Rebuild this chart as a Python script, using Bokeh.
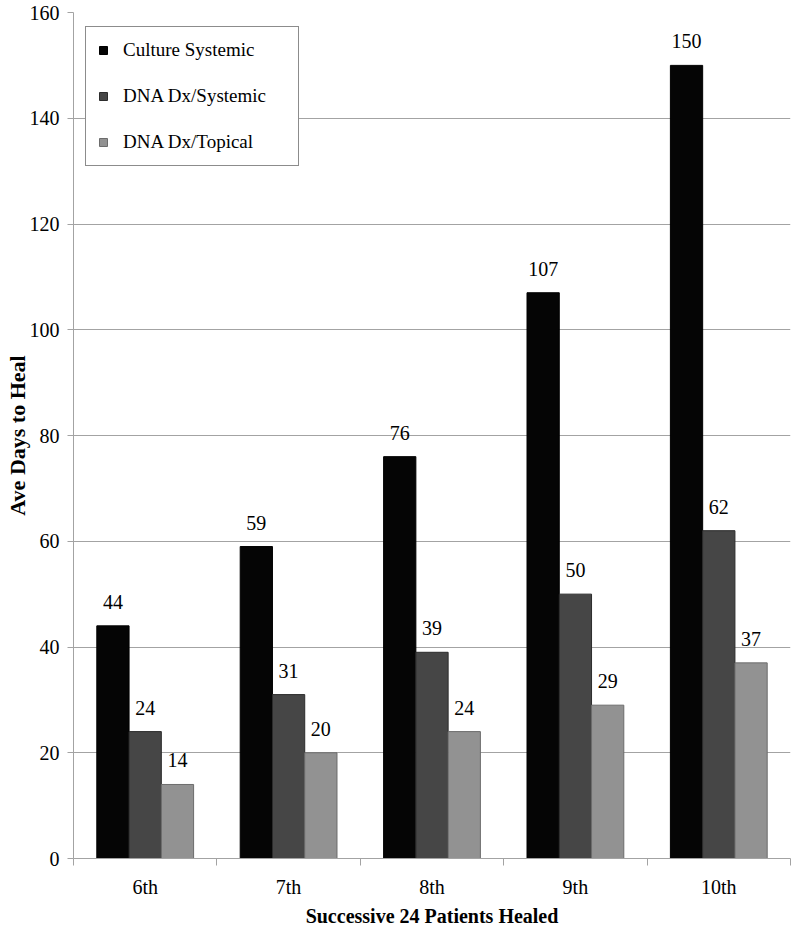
from bokeh.plotting import figure
from bokeh.models import FixedTicker, Legend, LegendItem, ColumnDataSource, Range1d
from bokeh.core.properties import value
from bokeh.embed import file_html
from bokeh.resources import INLINE

categories = ["6th", "7th", "8th", "9th", "10th"]
culture_systemic = [44, 59, 76, 107, 150]
dna_systemic = [24, 31, 39, 50, 62]
dna_topical = [14, 20, 24, 29, 37]
series_names = ["Culture Systemic", "DNA Dx/Systemic", "DNA Dx/Topical"]
y_ticks = [0, 20, 40, 60, 80, 100, 120, 140, 160]

FONT = "Liberation Serif"

FIG_W = 792
FIG_H = 930
TOP = 12
BOTTOM = 72
p = figure(width=FIG_W, height=FIG_H, output_backend="svg", toolbar_location=None,
           x_range=Range1d(0, len(categories)), y_range=Range1d(0, 160),
           min_border_left=73, min_border_right=2, min_border_top=TOP, min_border_bottom=BOTTOM)
p.outline_line_color = None
p.background_fill_color = "white"

series = [culture_systemic, dna_systemic, dna_topical]
fills = ["#050505", "#464646", "#929292"]
lines = ["#000000", "#2c2c2c", "#6c6c6c"]
offsets = [-0.225, 0.0, 0.225]
bw = 0.225

renderers = []
for vals, fc, lc, off in zip(series, fills, lines, offsets):
    xs = [i + 0.5 + off for i in range(len(categories))]
    src = ColumnDataSource(dict(x=xs, top=vals, lab=[str(v) for v in vals]))
    r = p.vbar(x="x", top="top", bottom=0, width=bw, source=src,
               fill_color=fc, line_color=lc, line_width=1)
    renderers.append(r)
    p.text(x="x", y="top", text="lab", source=src, text_align="center",
           text_baseline="middle", y_offset=-24, text_font=value(FONT),
           text_font_size="20px", text_color="black")

frame_h = FIG_H - TOP - BOTTOM
LEG_H = 3 * 22 + 2 * 24 + 2 * 12
legend = Legend(items=[LegendItem(label=n, renderers=[r]) for n, r in zip(series_names, renderers)],
                location=(12, frame_h - 16 - LEG_H))
legend.glyph_width = 10
legend.glyph_height = 10
legend.label_height = 22
legend.spacing = 24
legend.padding = 12
legend.label_width = 163
legend.label_standoff = 15
legend.label_text_font = FONT
legend.label_text_font_size = "19px"
legend.label_text_color = "black"
legend.border_line_color = "#1a1a1a"
legend.border_line_width = 1
legend.background_fill_alpha = 1
p.add_layout(legend, "center")

# axes
GRAY = "#a3a3a3"
p.xaxis.ticker = FixedTicker(ticks=[i + 0.5 for i in range(len(categories))],
                             minor_ticks=list(range(len(categories) + 1)))
p.xaxis.major_label_overrides = {i + 0.5: c for i, c in enumerate(categories)}
p.xaxis.major_tick_out = 0
p.xaxis.major_tick_in = 0
p.xaxis.minor_tick_out = 7
p.xaxis.minor_tick_in = 0
p.xaxis.minor_tick_line_color = GRAY
p.xaxis.axis_line_color = GRAY
p.xaxis.major_label_standoff = 10
p.xaxis.axis_label = "Successive 24 Patients Healed"
p.xaxis.axis_label_standoff = 4
p.xaxis.axis_label_text_font_size = "20px"

p.yaxis.ticker = FixedTicker(ticks=y_ticks)
p.yaxis.major_tick_out = 6
p.yaxis.major_tick_in = 0
p.yaxis.minor_tick_out = 0
p.yaxis.minor_tick_in = 0
p.yaxis.major_tick_line_color = GRAY
p.yaxis.axis_line_color = GRAY
p.yaxis.major_label_standoff = 8
p.yaxis.axis_label = "Ave Days to Heal"
p.yaxis.axis_label_standoff = -3
p.yaxis.axis_label_text_font_size = "22px"

for ax in (p.xaxis, p.yaxis):
    ax.major_label_text_font = FONT
    ax.major_label_text_font_size = "20px"
    ax.major_label_text_color = "black"
    ax.axis_label_text_font = FONT
    ax.axis_label_text_font_style = "bold"
    ax.axis_label_text_color = "black"

p.xgrid.grid_line_color = None
p.ygrid.ticker = FixedTicker(ticks=y_ticks)
p.ygrid.grid_line_color = GRAY
p.ygrid.grid_line_width = 1

open("out.html", "w").write(file_html(p, INLINE))
